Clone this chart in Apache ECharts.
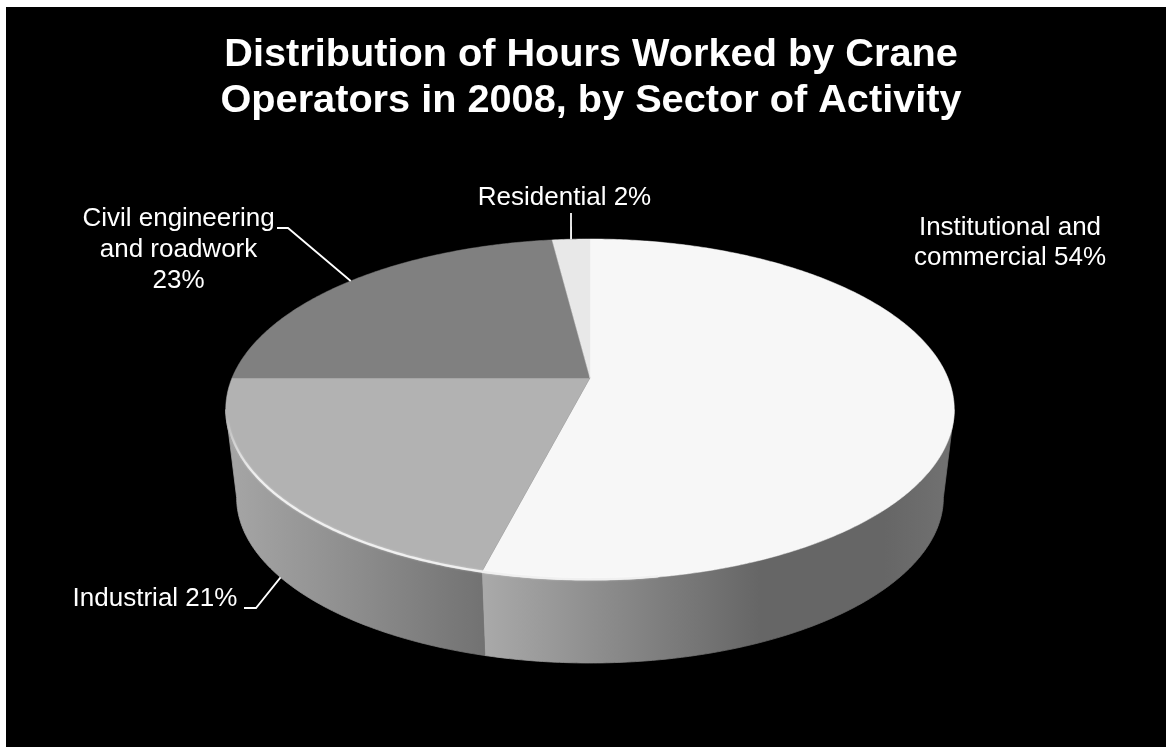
<!DOCTYPE html>
<html>
<head>
<meta charset="utf-8">
<style>
  html, body { margin: 0; padding: 0; background: #fff; }
  #chart { position: absolute; left: 6px; top: 7px; width: 1160px; height: 740px; }
</style>
<script src="https://cdn.jsdelivr.net/npm/echarts@6/dist/echarts.min.js"></script>
</head>
<body>
<div id="chart"></div>
<script>
// Chart values
const titleLines = ['Distribution of Hours Worked by Crane', 'Operators in 2008, by Sector of Activity'];
const sectors = ['Institutional and commercial', 'Industrial', 'Civil engineering and roadwork', 'Residential'];
const shares = [54, 21, 23, 2];
const labelLines = [
  ['Institutional and', 'commercial 54%'],
  ['Industrial 21%'],
  ['Civil engineering', 'and roadwork', '23%'],
  ['Residential 2%']
];

// Styling per slice
const topColors = ['#f7f7f7', '#b2b2b2', '#808080', '#e8e8e8'];
const wallStops = [
  [[0, '#a9a9a9'], [0.6, '#666666'], [0.87, '#666666'], [1, '#707070']],
  [[0, '#a4a4a4'], [0.5, '#8c8c8c'], [1, '#727272']],
  [[0, '#777777'], [1, '#777777']],
  [[0, '#777777'], [1, '#777777']]
];

// Perspective disc: page-space origin of the chart element, hub of the top face, scale, tilt
const ORIGIN = [6, 7];
const HUB_X = 590 - ORIGIN[0];
const TOP_HUB_Y = 378 - ORIGIN[1];
const BOTTOM_HUB_Y = 467 - ORIGIN[1];
const RADIUS_X = 358;
const RADIUS_Y = 164.7;
const TILT = 0.1848;
const BOTTOM_SCALE = 0.97;
const BEVEL_INSET = 0.996;

// Widest points of the rim: the wall's visible part lies between these angles.
const FRONT_FROM = Math.acos(-TILT);
const FRONT_TO = Math.PI * 2 - FRONT_FROM;

const total = shares.reduce((a, b) => a + b, 0);
const starts = [];
shares.reduce((sum, v, i) => { starts[i] = sum; return sum + v; }, 0);

// Angle runs clockwise from twelve o'clock; the projection foreshortens the far side.
function project(angle, face, scale) {
  const x = Math.sin(angle), y = Math.cos(angle);
  const w = 1 + TILT * y;
  const s = (face === 'top' ? 1 : BOTTOM_SCALE) * (scale || 1);
  const hubY = face === 'top' ? TOP_HUB_Y : BOTTOM_HUB_Y;
  return [HUB_X + s * RADIUS_X * x / w, hubY - s * RADIUS_Y * y / w];
}
const toAngle = v => v / total * Math.PI * 2;
function arc(a0, a1, face, scale) {
  const steps = Math.max(2, Math.ceil(Math.abs(a1 - a0) / 0.01));
  const pts = [];
  for (let i = 0; i <= steps; i++) pts.push(project(a0 + (a1 - a0) * i / steps, face, scale));
  return pts;
}
function sliceRange(i) {
  return [toAngle(starts[i]), toAngle(starts[i] + shares[i])];
}

// Side wall of a slice; its end edges at the widest points form the silhouette.
function renderWall(params, api) {
  const i = api.value(0);
  const [a0, a1] = sliceRange(i);
  const from = Math.max(a0, FRONT_FROM);
  const to = Math.min(a1, FRONT_TO);
  if (to <= from) return null;
  const upper = arc(from, to, 'top');
  const lower = arc(from, to, 'bottom');
  const xs = lower.map(p => p[0]);
  const minX = Math.min(...xs), maxX = Math.max(...xs);
  const stops = wallStops[i].map(s => ({ offset: s[0], color: s[1] }));
  const shade = { type: 'linear', global: true, x: minX, y: 0, x2: maxX, y2: 0, colorStops: stops };
  return {
    type: 'polygon',
    shape: { points: upper.concat(lower.slice().reverse()) },
    style: { fill: shade, stroke: shade, lineWidth: 0.8 }
  };
}

// Top face of a slice.
function renderTop(params, api) {
  const i = api.value(0);
  const [a0, a1] = sliceRange(i);
  const pts = [[HUB_X, TOP_HUB_Y]].concat(arc(a0, a1, 'top'));
  return {
    type: 'polygon',
    shape: { points: pts },
    style: { fill: topColors[i], stroke: topColors[i], lineWidth: 0.5 }
  };
}

// Bright bevel along the near edge of the top face, fading out toward the left extreme.
function renderBevel() {
  return {
    type: 'polyline',
    shape: { points: arc(Math.PI * 0.95, Math.PI * 1.44, 'top', BEVEL_INSET) },
    style: {
      fill: null,
      lineWidth: 2.2,
      stroke: {
        type: 'linear', global: true, x: 0, y: 410, x2: 0, y2: 470,
        colorStops: [{ offset: 0, color: 'rgba(235,235,235,0)' }, { offset: 1, color: 'rgba(240,240,240,1)' }]
      },
      shadowBlur: 2,
      shadowColor: 'rgba(255,255,255,0.5)'
    }
  };
}

// Leader lines run from a label elbow to the rim at the middle of the slice.
const leaders = [
  null,
  { face: 'bottom', tail: [[244, 608], [256, 608]] },
  { face: 'top', tail: [[277, 228], [288, 228]] },
  { face: 'top', tail: [[571, 213]] }
];
const labelPlace = [
  { x: 1010, y: 227.5 },
  { x: 155, y: 599 },
  { x: 178.5, y: 219 },
  { x: 564.5, y: 198 }
];
const LABEL_LINE = 30.7;

function renderLabel(params, api) {
  const i = api.value(0);
  const children = [];
  const leader = leaders[i];
  if (leader) {
    const mid = toAngle(starts[i] + shares[i] / 2);
    const tail = leader.tail.map(p => [p[0] - ORIGIN[0], p[1] - ORIGIN[1]]);
    children.push({
      type: 'polyline',
      shape: { points: tail.concat([project(mid, leader.face)]) },
      style: { fill: null, stroke: '#ffffff', lineWidth: 1.8 }
    });
  }
  const place = labelPlace[i];
  labelLines[i].forEach((line, n) => {
    children.push({
      type: 'text',
      x: place.x - ORIGIN[0],
      y: place.y - ORIGIN[1] + n * LABEL_LINE,
      style: {
        text: line, fill: '#ffffff', align: 'center', verticalAlign: 'middle',
        font: '26px "Liberation Sans", Arial, sans-serif'
      }
    });
  });
  return { type: 'group', children };
}

const sliceIndex = shares.map((_, i) => [i]);
const chart = echarts.init(document.getElementById('chart'), null, { renderer: 'canvas' });
chart.setOption({
  animation: false,
  backgroundColor: '#000000',
  title: {
    text: titleLines.join('\n'),
    left: 580,
    top: 20,
    textAlign: 'center',
    textStyle: {
      color: '#ffffff', fontFamily: '"Liberation Sans", Arial, sans-serif',
      fontWeight: 'bold', fontSize: 39.7, lineHeight: 46
    }
  },
  tooltip: { show: false },
  series: [
    { type: 'custom', name: 'walls', coordinateSystem: 'none', data: sliceIndex, renderItem: renderWall, z: 1, silent: true },
    { type: 'custom', name: 'tops', coordinateSystem: 'none', data: sliceIndex, renderItem: renderTop, z: 2, silent: true },
    { type: 'custom', name: 'bevel', coordinateSystem: 'none', data: [[0]], renderItem: renderBevel, z: 3, silent: true },
    { type: 'custom', name: 'labels', coordinateSystem: 'none', data: sliceIndex, renderItem: renderLabel, z: 4, silent: true }
  ]
});
</script>
</body>
</html>
